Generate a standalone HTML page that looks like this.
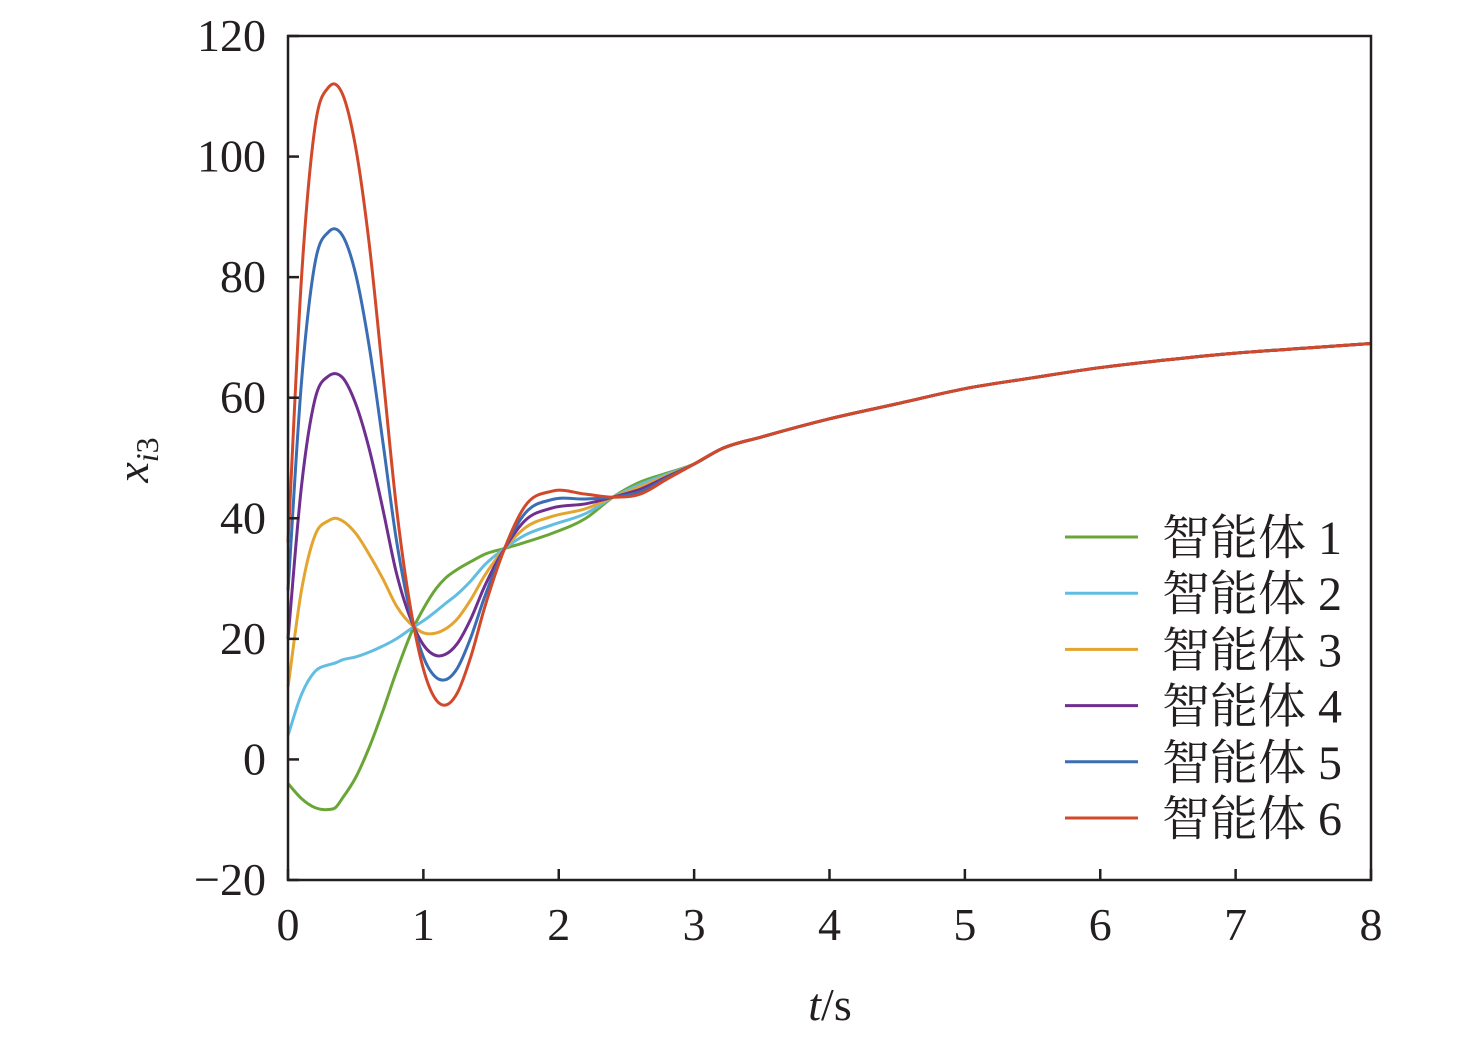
<!DOCTYPE html>
<html><head><meta charset="utf-8"><style>
body{margin:0;background:#fff}
svg text{font-family:"Liberation Serif","Times New Roman",serif;fill:#231f20}
svg text.cjk{font-family:"Liberation Serif","Noto Serif CJK SC",serif}
</style></head><body>
<svg id="chart" width="1476" height="1043" xmlns="http://www.w3.org/2000/svg">
<g id="plot"></g>
<g id="axes"></g>
<g id="legend"></g>
<text x="830" y="1020" font-size="46" text-anchor="middle"><tspan font-style="italic">t</tspan>/s</text>
<text transform="translate(148,460) rotate(-90)" font-size="46" text-anchor="middle"><tspan font-style="italic">x</tspan><tspan font-style="italic" font-size="32" dy="10">i</tspan><tspan font-size="32">3</tspan></text>
</svg>
<script>
const tHead=[0,0.1,0.2,0.3,0.35,0.4,0.5,0.6,0.7,0.8,0.93,1.0,1.1,1.16,1.25,1.35,1.45,1.6,1.75,1.95,2.2,2.4,2.6,2.8,3.0];
const tTail=[3.2,3.5,4,4.5,5,5.5,6,6.5,7,7.5,8];
const tailValues=[51.5,53.5,56.5,59,61.5,63.3,65,66.3,67.4,68.2,69];
const agent1=[-4,-6.5,-8,-8.3,-8,-6.5,-3,2,8,14.5,22,25,28.5,30,31.5,32.8,34,35,36,37.5,40,43.5,46,47.5,49];
const agent2=[4,10.8,14.6,15.7,16,16.5,17,17.8,18.8,20,22,23,24.7,25.8,27.4,29.6,32.2,35,37.2,38.9,40.8,43.5,45.6,47.3,49];
const agent3=[12,28.1,37.2,39.6,40,39.6,37.5,34,30,25.5,22,21,21,21.6,23.3,26.5,30.4,35,38.4,40.3,41.6,43.5,45.2,47.1,49];
const agent4=[20,45.4,59.8,63.6,64,63.4,59,51.5,41.6,31,22,19,17.2,17.4,19.2,23.3,28.6,35,39.6,41.7,42.4,43.5,44.8,46.9,49];
const agent5=[28,62.7,82.4,87.5,88,87,80.5,68.5,52.8,36.5,22,17,13.5,13.2,15.1,20.2,26.8,35,40.8,43.1,43.2,43.5,44.4,46.7,49];
const agent6=[36,80,105,111.5,112,110.5,101.5,85.5,64,42,22,15,9.7,9,11,17,25,35,42,44.5,44,43.5,44,46.5,49];
const seriesNames=["智能体 1","智能体 2","智能体 3","智能体 4","智能体 5","智能体 6"];
const colors=["#6aa637","#62bde3","#e3a52f","#6f2f8f","#3a6db3","#d1492a"];
const xTicks=[0,1,2,3,4,5,6,7,8];
const yTicks=[-20,0,20,40,60,80,100,120];

const X0=288,X1=1371,Y0=880,Y1=36;
const sx=t=>X0+(t-0)/(8-0)*(X1-X0);
const sy=v=>Y0-(v+20)/(140)*(Y0-Y1);
const NS="http://www.w3.org/2000/svg";
function mk(tag,parent){const e=document.createElementNS(NS,tag);parent.appendChild(e);return e;}
const plot=document.getElementById('plot'),axes=document.getElementById('axes'),legend=document.getElementById('legend');
const all=[agent1,agent2,agent3,agent4,agent5,agent6];
const ts=tHead.concat(tTail);
function hermitePath(T,V){
  const n=T.length,m=[];
  for(let i=0;i<n;i++){
    if(i===0)m.push((V[1]-V[0])/(T[1]-T[0]));
    else if(i===n-1)m.push((V[n-1]-V[n-2])/(T[n-1]-T[n-2]));
    else{
      const d0=(V[i]-V[i-1])/(T[i]-T[i-1]),d1=(V[i+1]-V[i])/(T[i+1]-T[i]);
      const h0=T[i]-T[i-1],h1=T[i+1]-T[i];
      m.push((d0*h1+d1*h0)/(h0+h1));
    }
  }
  let d="M"+sx(T[0]).toFixed(2)+","+sy(V[0]).toFixed(2);
  for(let i=0;i<n-1;i++){
    const h=T[i+1]-T[i];
    const c1t=T[i]+h/3,c1v=V[i]+m[i]*h/3;
    const c2t=T[i+1]-h/3,c2v=V[i+1]-m[i+1]*h/3;
    d+=" C"+sx(c1t).toFixed(2)+","+sy(c1v).toFixed(2)+" "+sx(c2t).toFixed(2)+","+sy(c2v).toFixed(2)+" "+sx(T[i+1]).toFixed(2)+","+sy(V[i+1]).toFixed(2);
  }
  return d;
}
all.forEach((arr,i)=>{
  const vals=arr.concat(tailValues);
  const p=mk('path',plot);
  p.setAttribute('d',hermitePath(ts,vals));
  p.setAttribute('fill','none');p.setAttribute('stroke',colors[i]);p.setAttribute('stroke-width','3');
  p.setAttribute('stroke-linejoin','round');
  
  
  const ly=537+i*56.2;
  const l=mk('line',legend);
  l.setAttribute('x1',1065);l.setAttribute('x2',1138);l.setAttribute('y1',ly);l.setAttribute('y2',ly);
  l.setAttribute('stroke',colors[i]);l.setAttribute('stroke-width','3');
  
  
  const tx=mk('text',legend);
  tx.setAttribute('x',1162);tx.setAttribute('y',ly+17);tx.setAttribute('font-size','48');
  tx.setAttribute('class','cjk');
  tx.textContent=seriesNames[i];
  
  
});
const box=mk('rect',axes);
box.setAttribute('x',X0);box.setAttribute('y',Y1);box.setAttribute('width',X1-X0);box.setAttribute('height',Y0-Y1);
box.setAttribute('fill','none');box.setAttribute('stroke','#231f20');box.setAttribute('stroke-width','2.5');


xTicks.forEach(t=>{
  const l=mk('line',axes);
  l.setAttribute('x1',sx(t));l.setAttribute('x2',sx(t));l.setAttribute('y1',Y0);l.setAttribute('y2',Y0-11);
  l.setAttribute('stroke','#231f20');l.setAttribute('stroke-width','2.5');
  
  
  const tx=mk('text',axes);
  tx.setAttribute('x',sx(t));tx.setAttribute('y',940);tx.setAttribute('font-size','46');tx.setAttribute('text-anchor','middle');
  tx.textContent=t;
  
  
});
yTicks.forEach(v=>{
  const l=mk('line',axes);
  l.setAttribute('x1',X0);l.setAttribute('x2',X0+11);l.setAttribute('y1',sy(v));l.setAttribute('y2',sy(v));
  l.setAttribute('stroke','#231f20');l.setAttribute('stroke-width','2.5');
  
  
  const tx=mk('text',axes);
  tx.setAttribute('x',266);tx.setAttribute('y',sy(v)+15);tx.setAttribute('font-size','46');tx.setAttribute('text-anchor','end');
  tx.textContent=v<0?"\u2212"+Math.abs(v):v;
  
  
});
</script>
</body></html>
